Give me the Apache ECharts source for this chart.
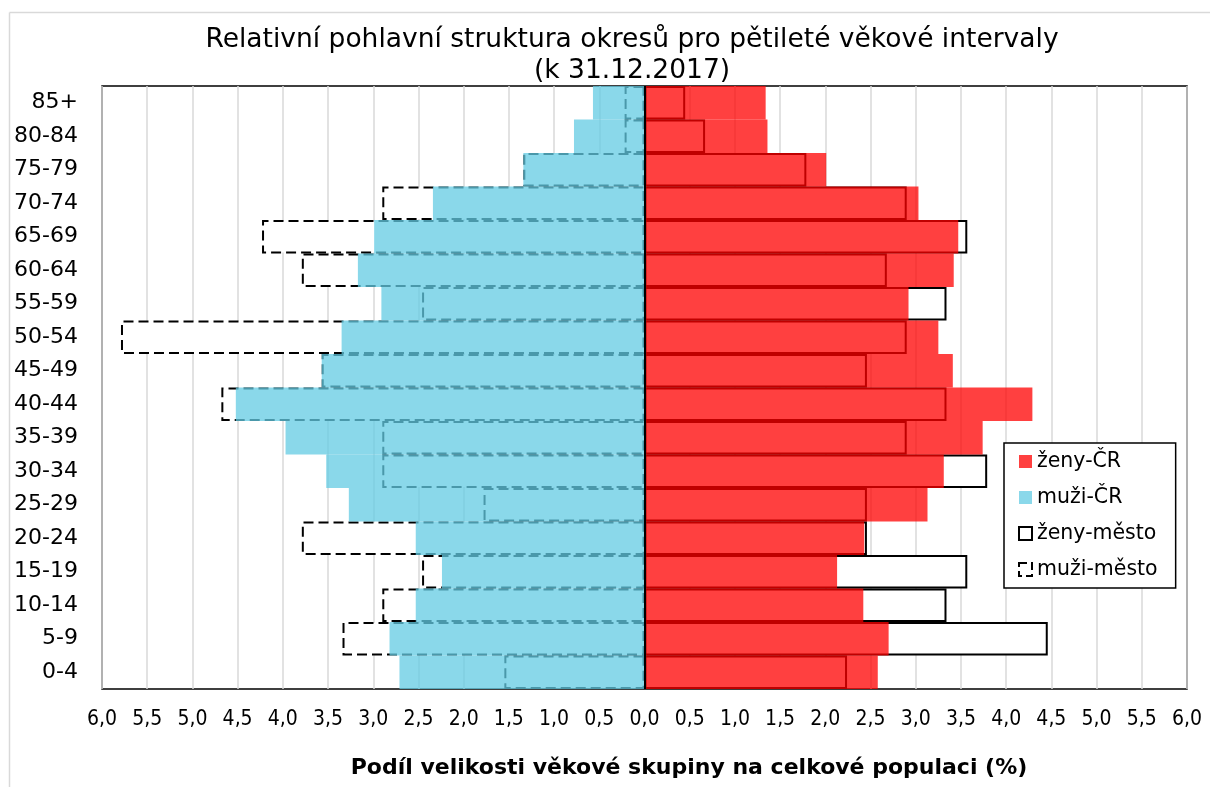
<!DOCTYPE html>
<html>
<head>
<meta charset="utf-8">
<script src="https://cdn.jsdelivr.net/npm/echarts@6/dist/echarts.min.js"></script>
<style>
  html, body { margin: 0; padding: 0; background: #fff; }
  #chart { width: 1210px; height: 787px; }
</style>
</head>
<body>
<div id="chart"></div>
<script>
// věkové skupiny (odspodu nahoru)
const ageGroups = ["0-4", "5-9", "10-14", "15-19", "20-24", "25-29", "30-34", "35-39", "40-44",
  "45-49", "50-54", "55-59", "60-64", "65-69", "70-74", "75-79", "80-84", "85+"];

// podíly v % (muži kladně, na ose se kreslí doleva)
const zenyCR = [2.58, 2.70, 2.42, 2.13, 2.43, 3.13, 3.31, 3.74, 4.29, 3.41, 3.25, 2.92, 3.42, 3.47, 3.03, 2.01, 1.36, 1.34];
const muziCR = [2.71, 2.82, 2.53, 2.24, 2.53, 3.27, 3.52, 3.97, 4.52, 3.57, 3.35, 2.91, 3.17, 2.99, 2.34, 1.34, 0.78, 0.57];
const zenyMesto = [2.24, 4.46, 3.34, 3.57, 2.46, 2.46, 3.79, 2.90, 3.34, 2.46, 2.90, 3.34, 2.68, 3.57, 2.90, 1.79, 0.67, 0.45];
const muziMesto = [1.55, 3.34, 2.90, 2.46, 3.79, 1.78, 2.90, 2.90, 4.68, 3.57, 5.79, 2.46, 3.79, 4.23, 2.90, 1.34, 0.22, 0.22];

const chart = echarts.init(document.getElementById("chart"));

const neg = arr => arr.map(v => -v);
const fmt = v => Math.abs(v).toFixed(1).replace(".", ",");

chart.setOption({
  animation: false,
  backgroundColor: "#fff",
  graphic: [
    // rámeček oblasti grafu
    { type: "line", shape: { x1: 9.5, y1: 12.5, x2: 1210, y2: 12.5 }, style: { stroke: "#d9d9d9", lineWidth: 1.5 } },
    { type: "line", shape: { x1: 9.5, y1: 12.5, x2: 9.5, y2: 787 }, style: { stroke: "#d9d9d9", lineWidth: 1.5 } },
    {
      type: "text", x: 632, y: 25,
      style: {
        text: "Relativní pohlavní struktura okresů pro pětileté věkové intervaly\n(k 31.12.2017)",
        align: "center", verticalAlign: "top", font: "26.5px 'DejaVu Sans'", fill: "#000", lineHeight: 31
      }
    },
    {
      type: "text", x: 689, y: 757,
      style: {
        text: "Podíl velikosti věkové skupiny na celkové populaci (%)",
        align: "center", verticalAlign: "top", font: "bold 22px 'DejaVu Sans'", fill: "#000"
      }
    }
  ],
  legend: {
    data: [
      { name: "ženy-ČR" },
      { name: "muži-ČR" },
      { name: "ženy-město" },
      { name: "muži-město", itemStyle: { borderType: [8, 4] } }
    ],
    orient: "vertical",
    left: 1004,
    top: 443,
    padding: [8, 18, 8, 14],
    itemGap: 15,
    itemWidth: 13,
    itemHeight: 13,
    icon: "rect",
    borderColor: "#000",
    borderWidth: 1.5,
    backgroundColor: "#fff",
    textStyle: { fontFamily: "DejaVu Sans", fontSize: 20.5, color: "#000" }
  },
  grid: { left: 102, right: 23, top: 86, bottom: 98, show: true, borderColor: "#000", borderWidth: 1.5, containLabel: false },
  xAxis: {
    type: "value",
    min: -6,
    max: 6,
    interval: 0.5,
    axisLine: { show: false },
    axisTick: { show: false },
    splitLine: { show: true, lineStyle: { color: "#d9d9d9", width: 1.5 } },
    axisLabel: {
      formatter: fmt,
      margin: 20,
      fontFamily: "'DejaVu Sans Condensed', sans-serif",
      fontSize: 21,
      color: "#000"
    }
  },
  yAxis: {
    type: "category",
    data: ageGroups,
    axisLine: { show: false },
    axisTick: { show: false },
    axisLabel: { margin: 24, fontFamily: "DejaVu Sans", fontSize: 22, color: "#000" }
  },
  series: [
    {
      name: "ženy-město", type: "bar", data: zenyMesto,
      barCategoryGap: 0, barGap: "-100%",
      itemStyle: { color: "#fff", borderColor: "#000", borderWidth: 2 }
    },
    {
      name: "muži-město", type: "bar", data: neg(muziMesto),
      barCategoryGap: 0, barGap: "-100%",
      itemStyle: { color: "#fff", borderColor: "#000", borderWidth: 2, borderType: [10, 5] }
    },
    {
      name: "ženy-ČR", type: "bar", data: zenyCR,
      barCategoryGap: 0, barGap: "-100%",
      itemStyle: { color: "rgba(255,0,0,0.75)" }
    },
    {
      name: "muži-ČR", type: "bar", data: neg(muziCR),
      barCategoryGap: 0, barGap: "-100%",
      itemStyle: { color: "rgba(99,203,227,0.75)" },
      markLine: {
        silent: true, symbol: "none", label: { show: false },
        lineStyle: { color: "#000", width: 2, type: "solid" },
        data: [{ xAxis: 0 }]
      }
    }
  ]
});
</script>
</body>
</html>
